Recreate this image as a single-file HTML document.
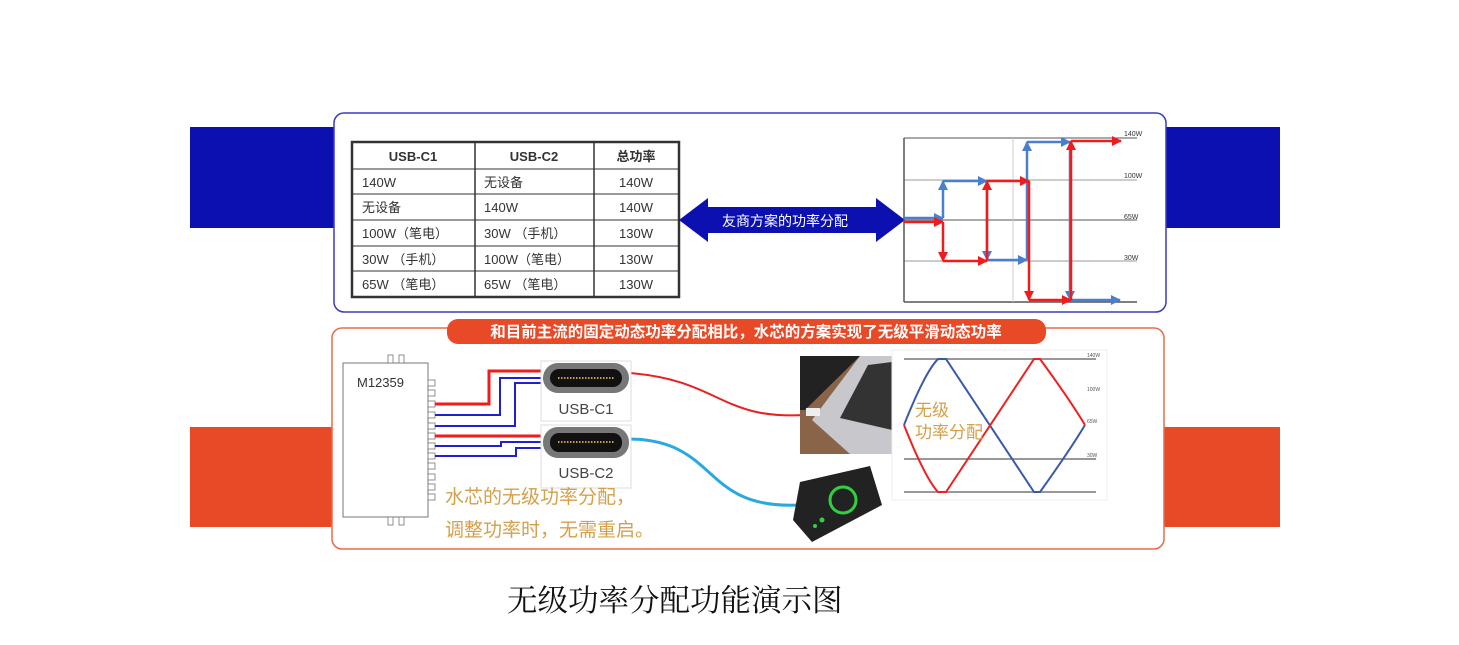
<!DOCTYPE html>
<html><head><meta charset="utf-8"><style>
body{margin:0;width:1459px;height:640px;background:#fff;overflow:hidden;font-family:"Liberation Sans","Noto Sans CJK SC",sans-serif}
</style></head><body>
<svg width="1459" height="640" xmlns="http://www.w3.org/2000/svg" font-family="Liberation Sans, Noto Sans CJK SC, sans-serif">
<defs>
<marker id="ab" viewBox="0 0 10 10" refX="9" refY="5" markerWidth="4" markerHeight="4" orient="auto"><path d="M0,0 L10,5 L0,10 z" fill="#4a7fd0"/></marker>
<marker id="ar" viewBox="0 0 10 10" refX="9" refY="5" markerWidth="4" markerHeight="4" orient="auto"><path d="M0,0 L10,5 L0,10 z" fill="#f21b1b"/></marker>
</defs>
<rect x="190" y="127" width="1090" height="101" fill="#0c10b0"/>
<rect x="190" y="427" width="1090" height="100" fill="#e84a27"/>
<rect x="334" y="113" width="832" height="199" rx="10" fill="#fff" stroke="#3a3ac0" stroke-width="1.5"/>
<rect x="332" y="328" width="832" height="221" rx="10" fill="#fff" stroke="#e86a4a" stroke-width="1.5"/>
<!-- table -->
<g stroke="#333" fill="none">
<rect x="352" y="142" width="327" height="155" stroke-width="2.5"/>
<line x1="475" y1="142" x2="475" y2="297" stroke-width="1.5"/>
<line x1="594" y1="142" x2="594" y2="297" stroke-width="1.5"/>
<line x1="352" y1="169" x2="679" y2="169"/>
<line x1="352" y1="194" x2="679" y2="194"/>
<line x1="352" y1="220" x2="679" y2="220"/>
<line x1="352" y1="246" x2="679" y2="246"/>
<line x1="352" y1="271" x2="679" y2="271"/>
</g>
<g font-size="13" fill="#333">
<text x="413" y="161" text-anchor="middle" font-weight="bold">USB-C1</text>
<text x="534" y="161" text-anchor="middle" font-weight="bold">USB-C2</text>
<text x="636" y="161" text-anchor="middle" font-weight="bold">总功率</text>
<text x="362" y="187">140W</text><text x="484" y="187">无设备</text><text x="636" y="187" text-anchor="middle">140W</text>
<text x="362" y="212">无设备</text><text x="484" y="212">140W</text><text x="636" y="212" text-anchor="middle">140W</text>
<text x="362" y="238">100W（笔电）</text><text x="484" y="238">30W （手机）</text><text x="636" y="238" text-anchor="middle">130W</text>
<text x="362" y="264">30W （手机）</text><text x="484" y="264">100W（笔电）</text><text x="636" y="264" text-anchor="middle">130W</text>
<text x="362" y="289">65W （笔电）</text><text x="484" y="289">65W （笔电）</text><text x="636" y="289" text-anchor="middle">130W</text>
</g>
<polygon points="679,220 708,198 708,207 876,207 876,198 905,220 876,242 876,233 708,233 708,242" fill="#0c10b0"/>
<text x="785" y="226" font-size="14" fill="#fff" text-anchor="middle">友商方案的功率分配</text>
<!-- chart1 -->
<g stroke="#555" stroke-width="1">
<line x1="904" y1="138" x2="1137" y2="138"/>
<line x1="904" y1="180" x2="1137" y2="180" stroke="#999"/>
<line x1="904" y1="220" x2="1137" y2="220"/>
<line x1="904" y1="261" x2="1137" y2="261" stroke="#999"/>
<line x1="904" y1="302" x2="1137" y2="302" stroke-width="1.5"/>
<line x1="904" y1="138" x2="904" y2="302" stroke-width="1.5"/>
<line x1="1013" y1="138" x2="1013" y2="302" stroke="#ccc"/>
</g>
<g font-size="7" fill="#333"><text x="1124" y="136">140W</text><text x="1124" y="178">100W</text><text x="1124" y="219">65W</text><text x="1124" y="260">30W</text></g>
<g fill="none" stroke="#4a7fd0" stroke-width="2.5">
<polyline points="904,218 943,218" marker-end="url(#ab)"/>
<polyline points="943,218 943,181" marker-end="url(#ab)"/>
<polyline points="943,181 987,181" marker-end="url(#ab)"/>
<polyline points="987,181 987,260" marker-end="url(#ab)"/>
<polyline points="987,260 1027,260" marker-end="url(#ab)"/>
<polyline points="1027,260 1027,142" marker-end="url(#ab)"/>
<polyline points="1027,142 1070,142" marker-end="url(#ab)"/>
<polyline points="1070,142 1070,300" marker-end="url(#ab)"/>
<polyline points="1070,300 1120,300" marker-end="url(#ab)"/>
</g>
<g fill="none" stroke="#f21b1b" stroke-width="2.5">
<polyline points="904,222 943,222" marker-end="url(#ar)"/>
<polyline points="943,222 943,261" marker-end="url(#ar)"/>
<polyline points="943,261 987,261" marker-end="url(#ar)"/>
<polyline points="987,261 987,181" marker-end="url(#ar)"/>
<polyline points="987,181 1029,181" marker-end="url(#ar)"/>
<polyline points="1029,181 1029,300" marker-end="url(#ar)"/>
<polyline points="1029,300 1071,300" marker-end="url(#ar)"/>
<polyline points="1071,300 1071,141" marker-end="url(#ar)"/>
<polyline points="1071,141 1121,141" marker-end="url(#ar)"/>
</g>
<!-- banner -->
<rect x="447" y="319" width="599" height="25" rx="11" fill="#e84a27"/>
<text x="746" y="337" font-size="15.5" font-weight="bold" fill="#fff" text-anchor="middle">和目前主流的固定动态功率分配相比，水芯的方案实现了无级平滑动态功率</text>
<!-- chip -->
<rect x="343" y="363" width="85" height="154" fill="#fff" stroke="#777"/>
<text x="357" y="387" font-size="13" fill="#333">M12359</text>
<g fill="#fff" stroke="#777" stroke-width="0.8">
<rect x="388" y="355" width="5" height="8"/><rect x="399" y="355" width="5" height="8"/>
<rect x="388" y="517" width="5" height="8"/><rect x="399" y="517" width="5" height="8"/>
<rect x="428" y="380" width="7" height="6"/><rect x="428" y="390" width="7" height="6"/><rect x="428" y="401" width="7" height="6"/><rect x="428" y="412" width="7" height="6"/><rect x="428" y="423" width="7" height="6"/><rect x="428" y="433" width="7" height="6"/><rect x="428" y="443" width="7" height="6"/><rect x="428" y="453" width="7" height="6"/><rect x="428" y="463" width="7" height="6"/><rect x="428" y="474" width="7" height="6"/><rect x="428" y="484" width="7" height="6"/><rect x="428" y="494" width="7" height="6"/>
</g>
<g fill="none" stroke-width="2">
<polyline points="435,404 489,404 489,371 545,371" stroke="#f21b1b" stroke-width="3"/>
<polyline points="435,415 500,415 500,378 545,378" stroke="#2020d0"/>
<polyline points="435,426 515,426 515,383 545,383" stroke="#2020d0"/>
<polyline points="435,436 545,436" stroke="#f21b1b" stroke-width="3"/>
<polyline points="435,446 501,446 501,442 545,442" stroke="#2020d0"/>
<polyline points="435,456 516,456 516,448 545,448" stroke="#2020d0"/>
<path d="M629,373 C720,380 720,420 805,415" stroke="#e82020"/>
<path d="M629,439 C720,440 700,510 800,505" stroke="#2aa8e0" stroke-width="3"/>
</g>
<!-- usb -->
<rect x="541" y="361" width="90" height="60" fill="#fff" stroke="#ddd"/>
<rect x="543" y="363" width="86" height="30" rx="15" fill="#777"/>
<rect x="550" y="369" width="72" height="18" rx="9" fill="#111"/>
<line x1="558" y1="378" x2="614" y2="378" stroke="#c9a040" stroke-width="2" stroke-dasharray="1.5 1.5"/>
<text x="586" y="414" font-size="15" fill="#444" text-anchor="middle">USB-C1</text>
<rect x="541" y="425" width="90" height="63" fill="#fff" stroke="#ddd"/>
<rect x="543" y="427" width="86" height="31" rx="15" fill="#777"/>
<rect x="550" y="433" width="72" height="19" rx="9" fill="#111"/>
<line x1="558" y1="442" x2="614" y2="442" stroke="#c9a040" stroke-width="2" stroke-dasharray="1.5 1.5"/>
<text x="586" y="478" font-size="15" fill="#444" text-anchor="middle">USB-C2</text>
<!-- laptop -->
<rect x="800" y="356" width="92" height="98" fill="#8a6448"/>
<polygon points="800,356 860,356 805,410 800,410" fill="#222"/>
<polygon points="860,356 892,356 892,454 850,454 812,420" fill="#c8c8cc"/>
<polygon points="868,365 892,362 892,430 840,418" fill="#333"/>
<rect x="806" y="408" width="14" height="8" fill="#eee"/>
<!-- phone -->
<polygon points="800,482 870,466 882,505 812,542 793,520" fill="#222"/>
<circle cx="843" cy="500" r="13" fill="none" stroke="#30d040" stroke-width="3"/>
<circle cx="822" cy="520" r="2.5" fill="#30d040"/><circle cx="815" cy="526" r="2" fill="#30d040"/>
<!-- chart2 -->
<rect x="892" y="350" width="215" height="150" fill="#fff" stroke="#eee"/>
<g stroke="#777" stroke-width="1.5">
<line x1="904" y1="359" x2="1096" y2="359"/><line x1="904" y1="459" x2="1096" y2="459"/><line x1="904" y1="492" x2="1096" y2="492"/>
</g>
<g font-size="5" fill="#555"><text x="1087" y="357">140W</text><text x="1087" y="391">100W</text><text x="1087" y="423">65W</text><text x="1087" y="457">30W</text></g>
<path d="M904,425 Q925,372 938,359 L946,359 L1034,492 L1040,492 Q1070,450 1085,425" fill="none" stroke="#3a5aa8" stroke-width="2"/>
<path d="M904,425 Q925,478 938,492 L946,492 L1034,359 L1040,359 Q1070,400 1085,425" fill="none" stroke="#f02020" stroke-width="2"/>
<text x="915" y="416" font-size="17" fill="#d4a04a">无级</text>
<text x="915" y="438" font-size="17" fill="#d4a04a">功率分配</text>
<text x="445" y="503" font-size="19" fill="#d4a04a">水芯的无级功率分配，</text>
<text x="445" y="536" font-size="19" fill="#d4a04a">调整功率时，无需重启。</text>
<text x="507" y="611" font-size="30.5" fill="#111" font-family="Liberation Serif, Noto Serif CJK SC, serif">无级功率分配功能演示图</text>
</svg>
</body></html>
